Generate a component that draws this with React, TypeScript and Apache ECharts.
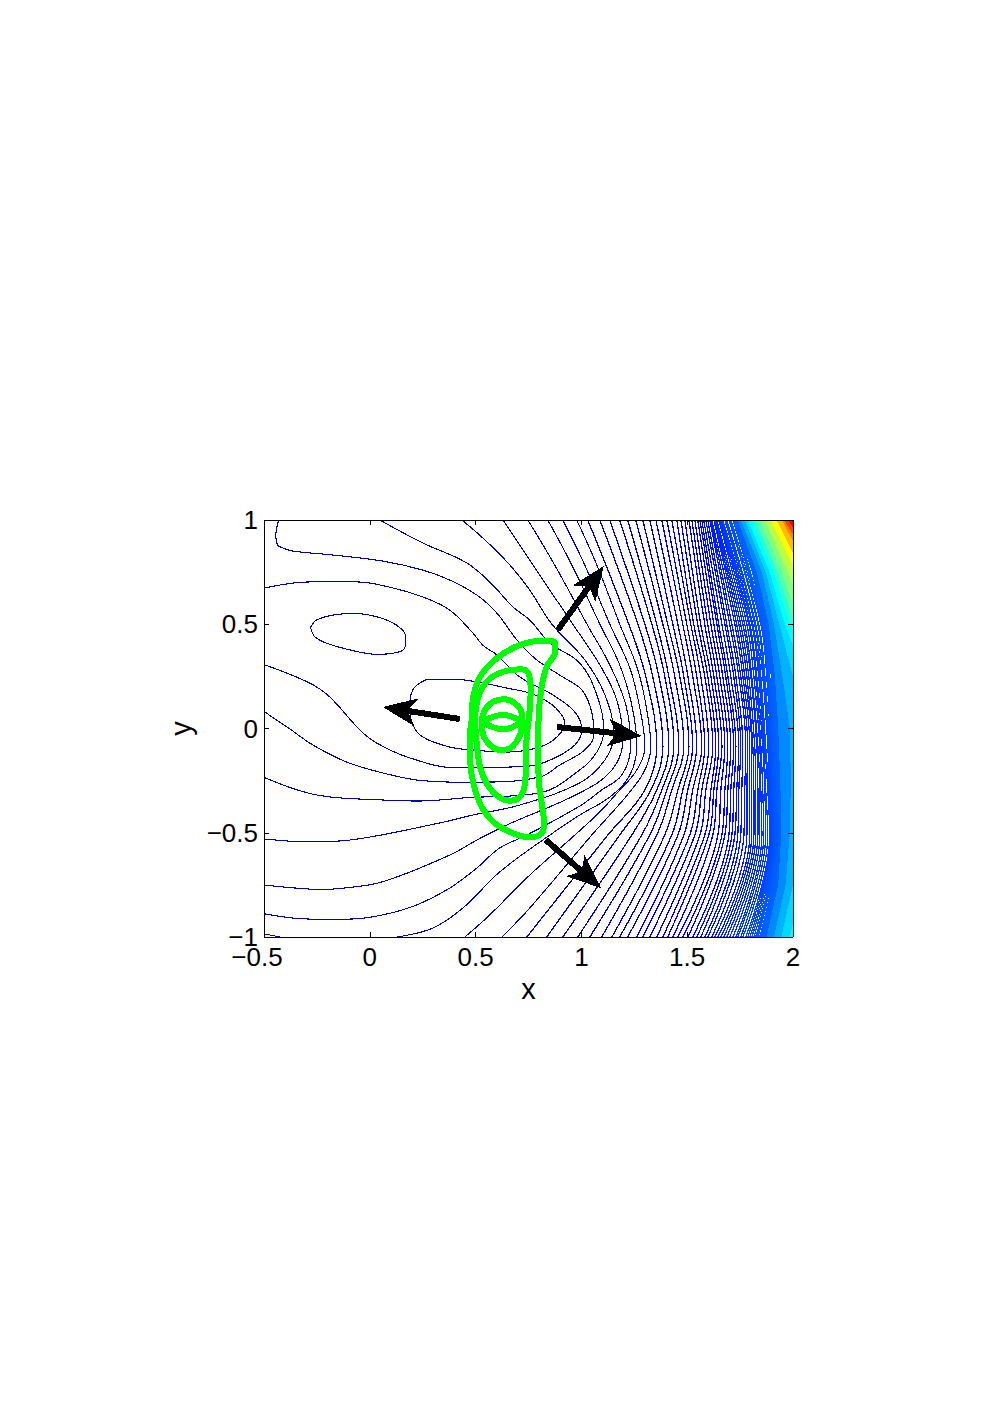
import React, { useEffect, useRef } from "react";
import * as echarts from "echarts";

type P = [number, number];

const xTicks = [-0.5, 0, 0.5, 1, 1.5, 2];
const yTicks = [-1, -0.5, 0, 0.5, 1];

// Closed and irregular contours
const loopD: P[] = [[-.28,.485],[-.252,.52],[-.173,.544],[-.079,.552],[.032,.536],[.126,.496],[.17,.44],[.165,.385],[.11,.361],[.032,.356],[-.095,.377],[-.204,.409],[-.26,.44],[-.28,.485]];
const loopB: P[] = [[.189,.089],[.189,.127],[.203,.185],[.236,.218],[.284,.237],[.392,.237],[.534,.218],[.647,.194],[.756,.17],[.827,.137],[.888,.089],[.922,.026],[.884,-.041],[.803,-.089],[.647,-.113],[.487,-.103],[.378,-.089],[.251,-.041],[.203,.017],[.189,.089]];
const lineE: P[] = [[-.496,.674],[-.284,.703],[-.061,.703],[.109,.674],[.25,.631],[.378,.568],[.487,.458],[.534,.4],[.6,.353],[.709,.247],[.865,.161],[.969,.079],[1.002,-.007],[.969,-.079],[.874,-.141],[.756,-.18],[.411,-.189],[.189,-.141],[.033,-.07],[-.047,-.007],[-.189,.151],[-.284,.218],[-.496,.305]];
const lineA: P[] = [[-.43,1],[-.444,.928],[-.435,.88],[-.411,.866],[-.364,.851],[-.175,.832],[.061,.803],[.25,.76],[.378,.712],[.506,.64],[.6,.554],[.695,.425],[.789,.329],[.912,.247],[1.002,.185],[1.049,.079],[1.059,-.031],[1.016,-.103],[.898,-.175],[.803,-.233],[.534,-.257],[.378,-.257],[.222,-.247],[.061,-.213],[-.109,-.161],[-.269,-.079],[-.378,-.002],[-.496,.079]];
const line2: P[] = [[.047,1],[.25,.89],[.458,.794],[.581,.688],[.676,.583],[.756,.52],[.851,.41],[.992,.314],[1.073,.161],[1.106,-.007],[1.073,-.113],[.992,-.199],[.803,-.309],[.458,-.332],[.222,-.348],[.061,-.343],[-.25,-.319],[-.496,-.236]];
const line3: P[] = [[.435,1],[.534,.914],[.662,.784],[.756,.664],[.86,.501],[1.016,.329],[1.111,.161],[1.153,-.031],[1.111,-.151],[.992,-.261],[.709,-.367],[.487,-.415],[.331,-.453],[-.095,-.535],[-.284,-.544],[-.496,-.53]];
const line4: P[] = [[.629,1],[.78,.77],[.959,.501],[1.087,.305],[1.167,.137],[1.196,-.055],[1.144,-.199],[.992,-.309],[.647,-.463],[.506,-.535],[.378,-.607],[.061,-.735],[-.12,-.765],[-.23,-.772],[-.354,-.765],[-.496,-.751]];
const line5: P[] = [[.747,1],[.874,.784],[1.026,.501],[1.134,.305],[1.21,.113],[1.233,-.084],[1.191,-.223],[1.096,-.295],[.992,-.372],[.742,-.511],[.614,-.573],[.506,-.669],[.378,-.765],[.222,-.846],[.061,-.894],[-.095,-.914],[-.284,-.914],[-.496,-.889]];
const line6: P[] = [[.841,1],[.955,.784],[1.087,.501],[1.181,.305],[1.238,.113],[1.262,-.084],[1.229,-.223],[1.134,-.329],[.992,-.415],[.851,-.511],[.614,-.688],[.44,-.861],[.298,-.957],[.132,-1],[-.095,-1.038],[-.331,-1.024],[-.425,-1],[-.496,-.986]];
const line7: P[] = [[.912,1],[1.016,.784],[1.134,.501],[1.229,.29],[1.276,.098],[1.3,-.084],[1.262,-.199],[1.181,-.295],[1.087,-.4],[.969,-.511],[.756,-.703],[.567,-.894],[.449,-1]];
const line8: P[] = [[.978,1],[1.073,.784],[1.181,.501],[1.267,.281],[1.309,.089],[1.328,-.084],[1.3,-.199],[1.229,-.304],[1.134,-.415],[1.049,-.511],[.756,-.861],[.624,-1]];

// The many C-shaped contours on the right: x where each crosses seven heights
const contourRowY = [1, 0.5, 0.25, -0.085, -0.295, -0.511, -1];
const contourTopX = [1.03,1.087,1.134,1.181,1.219,1.257,1.29,1.323,1.352,1.38,1.404,1.427,1.451,1.47,1.489,1.508,1.522,1.536,1.55,1.56,1.569,1.578,1.588,1.597,1.607,1.612,1.616,1.626,1.63,1.635,1.64,1.649,1.654,1.659,1.664,1.668,1.678,1.682,1.687,1.697,1.701,1.706,1.716,1.72,1.725];
const contourUpperX = [1.224,1.267,1.3,1.333,1.356,1.385,1.408,1.432,1.456,1.479,1.498,1.517,1.531,1.55,1.564,1.583,1.597,1.612,1.626,1.64,1.649,1.664,1.678,1.687,1.701,1.711,1.725,1.734,1.744,1.753,1.763,1.772,1.782,1.791,1.796,1.805,1.81,1.819,1.824,1.834,1.838,1.848,1.853,1.857,1.862];
const contourMidUpperX = [1.304,1.337,1.366,1.394,1.413,1.441,1.465,1.484,1.503,1.526,1.545,1.564,1.583,1.597,1.612,1.626,1.64,1.654,1.668,1.682,1.692,1.706,1.72,1.73,1.744,1.753,1.763,1.772,1.782,1.791,1.801,1.805,1.815,1.824,1.829,1.838,1.843,1.848,1.857,1.862,1.867,1.876,1.881,1.886,1.89];
const contourNoseX = [1.356,1.385,1.413,1.437,1.46,1.484,1.508,1.526,1.545,1.569,1.583,1.602,1.621,1.635,1.649,1.664,1.678,1.692,1.706,1.72,1.73,1.744,1.753,1.763,1.777,1.786,1.796,1.805,1.81,1.819,1.829,1.834,1.843,1.848,1.857,1.862,1.867,1.871,1.881,1.886,1.89,1.895,1.9,1.905,1.909];
const contourMidLowerX = [1.3,1.328,1.356,1.38,1.404,1.427,1.456,1.479,1.503,1.526,1.55,1.569,1.588,1.612,1.626,1.64,1.659,1.678,1.692,1.706,1.72,1.734,1.744,1.758,1.772,1.782,1.796,1.805,1.815,1.824,1.834,1.843,1.848,1.857,1.867,1.871,1.881,1.886,1.89,1.895,1.9,1.905,1.909,1.914,1.919];
const contourLowerX = [1.125,1.181,1.238,1.285,1.323,1.356,1.394,1.427,1.456,1.484,1.512,1.536,1.56,1.583,1.602,1.621,1.645,1.664,1.678,1.697,1.711,1.725,1.739,1.753,1.768,1.782,1.796,1.805,1.815,1.824,1.834,1.843,1.853,1.862,1.871,1.881,1.89,1.895,1.9,1.905,1.909,1.914,1.919,1.923,1.928];
const contourBottomX = [.742,.836,.912,.983,1.04,1.096,1.144,1.181,1.219,1.262,1.29,1.323,1.356,1.385,1.408,1.432,1.456,1.479,1.503,1.526,1.545,1.564,1.583,1.597,1.616,1.63,1.645,1.659,1.673,1.687,1.701,1.716,1.73,1.739,1.753,1.763,1.777,1.786,1.796,1.805,1.815,1.824,1.829,1.834,1.843];

// Solid colour bands where the contours are too dense to tell apart
const bandRowY = [1, 0.75, 0.5, 0.25, 0, -0.25, -0.5, -0.75, -1];
const bandColors = ["#0061ff","#008aff","#00b3ff","#00dbff","#00ffff","#2effd1","#57ffa8","#80ff80","#bdff42","#ffff00","#ffbd00","#ff8000","#ff4200","#ff0000","#df0000"];
const bandEdges = [
  [1.725,1.805,1.862,1.895,1.905,1.914,1.928,1.9,1.843],
  [1.739,1.829,1.885,1.915,1.93,1.94,1.945,1.93,1.875],
  [1.753,1.853,1.91,1.95,1.985,1.99,1.985,1.965,1.91],
  [1.772,1.871,1.935,2.0,2.06,2.07,2.05,2.0,1.945],
  [1.786,1.89,1.961,2.056,2.174,2.174,2.108,2.042,1.985],
  [1.805,1.909,1.985,2.103,2.245,2.245,2.174,2.089,2.018],
  [1.824,1.928,2.009,2.15,2.316,2.316,2.245,2.15,2.056],
  [1.843,1.947,2.032,2.198,2.363,2.363,2.316,2.221,2.103],
  [1.867,1.975,2.079,2.268,2.41,2.41,2.363,2.268,2.15],
  [1.895,2.013,2.127,2.316,2.6,2.6,2.6,2.6,2.6],
  [1.923,2.046,2.174,2.4,2.6,2.6,2.6,2.6,2.6],
  [1.947,2.079,2.221,2.5,2.7,2.7,2.7,2.7,2.7],
  [1.957,2.117,2.3,2.55,2.7,2.7,2.7,2.7,2.7],
  [1.975,2.155,2.4,2.6,2.8,2.8,2.8,2.8,2.8],
  [1.995,2.2,2.5,2.7,2.8,2.8,2.8,2.8,2.8],
];

// Green curves
const greenOuter: P[] = [[.4815,.0408],[.4893,.1527],[.5208,.2486],[.5996,.3365],[.7099,.4005],[.8201,.4213],[.8753,.4117],[.8753,.3685],[.8359,.2966],[.8123,.2007],[.7997,.0888],[.7965,-.0391],[.7965,-.167],[.7997,-.263],[.8123,-.3589],[.8233,-.4548],[.8123,-.5028],[.7571,-.522],[.6784,-.5028],[.5917,-.4548],[.5287,-.3749],[.4893,-.263],[.4736,-.1351],[.4736,-.0391],[.4815,.0408]];
const greenSecond: P[] = [[.4972,.0408],[.513,.1527],[.5602,.2326],[.6311,.2726],[.7177,.2838],[.7493,.2646],[.7603,.1847],[.754,.0727],[.7414,-.0391],[.7382,-.151],[.7335,-.263],[.7099,-.3269],[.6626,-.3461],[.6075,-.3269],[.5523,-.263],[.5208,-.183],[.5051,-.0711],[.4972,.0408]];
const greenThird: P[] = [[.5287,.0408],[.5445,.0888],[.5838,.1287],[.639,.1399],[.6862,.1207],[.7177,.0727],[.7177,.0088],[.702,-.0471],[.6626,-.0951],[.6154,-.1031],[.5681,-.0791],[.5366,-.0311],[.5287,.0408]];
const greenLens: P[] = [[.5287,.0328],[.5838,.0568],[.6311,.0648],[.6705,.0568],[.7099,.0328],[.6705,.0056],[.6311,-.004],[.5838,.0056],[.5287,.0328]];

// Arrows: tail x, tail y, tip x, tip y
const arrows = [
  [.8885,.4724,1.1059,.7794],
  [.4253,.0456,.0614,.1031],
  [.8837,.0072,1.2854,-.036],
  [.8318,-.5348,1.0917,-.765],
];

function jet(c: number): string {
  const f = (v: number) => Math.round(255 * Math.max(0, Math.min(1, v)));
  const r = f(1.5 - Math.abs(4 * c - 3));
  const g = f(1.5 - Math.abs(4 * c - 2));
  const b = f(1.5 - Math.abs(4 * c - 1));
  return `rgb(${r},${g},${b})`;
}

const fixedLines: P[][] = [loopD, loopB, lineE, lineA, line2, line3, line4, line5, line6, line7, line8];
const tableLines: P[][] = contourTopX.map((_, i) =>
  [contourTopX[i], contourUpperX[i], contourMidUpperX[i], contourNoseX[i], contourMidLowerX[i], contourLowerX[i], contourBottomX[i]].map(
    (x, r) => [x, contourRowY[r]] as P
  )
);
const allContours = [...fixedLines, ...tableLines];

export default function App() {
  const ref = useRef<HTMLDivElement>(null);
  useEffect(() => {
    const chart = echarts.init(ref.current!, undefined, { renderer: "svg" });
    const lineSeries = (data: P[], color: string, width: number, z: number, smooth = 0.38) => ({
      type: "line", data, smooth, symbol: "none", showSymbol: false, silent: true, z,
      clip: true, lineStyle: { color, width }, xAxisIndex: 0, yAxisIndex: 0,
    });
    const axisBase = {
      z: 10,
      axisLine: { show: true, onZero: false, lineStyle: { color: "#000", width: 1 } },
      axisTick: { show: true, inside: true, length: 5, lineStyle: { color: "#000", width: 1 } },
      splitLine: { show: false },
    };
    const labelFont = { color: "#000", fontFamily: "Liberation Sans", fontSize: 26 };
    const nameStyle = { color: "#000", fontFamily: "Liberation Sans", fontSize: 29 };
    chart.setOption({
      animation: false,
      backgroundColor: "#fff",
      grid: { left: 264, top: 520, width: 529, height: 417, containLabel: false },
      xAxis: [
        { ...axisBase, type: "value", min: xTicks[0], max: xTicks[xTicks.length - 1], interval: 0.5, position: "bottom",
          axisLabel: {
            show: true, ...labelFont, margin: 7,
            formatter: (v: number) => (v < 0 ? `{n|${String(v).replace("-", "\u2212")}}` : String(v)),
            rich: { n: { ...labelFont, padding: [0, 14, 0, 0] } },
          },
          name: "x", nameLocation: "middle", nameGap: 37, nameTextStyle: nameStyle },
        { ...axisBase, type: "value", min: xTicks[0], max: xTicks[xTicks.length - 1], interval: 0.5, position: "top", axisLabel: { show: false } },
      ],
      yAxis: [
        { ...axisBase, type: "value", min: yTicks[0], max: yTicks[yTicks.length - 1], interval: 0.5, position: "left",
          axisLabel: { show: true, ...labelFont, margin: 6, formatter: (v: number) => String(v).replace("-", "\u2212") },
          name: "y", nameLocation: "middle", nameGap: 66, nameTextStyle: nameStyle },
        { ...axisBase, type: "value", min: yTicks[0], max: yTicks[yTicks.length - 1], interval: 0.5, position: "right", axisLabel: { show: false } },
      ],
      series: [
        {
          type: "custom", silent: true, z: 1, clip: true, xAxisIndex: 0, yAxisIndex: 0,
          data: bandEdges.map((e, i) => [e[0], 1, i]),
          encode: { x: 0, y: 1 },
          renderItem: (_: any, api: any) => {
            const i = api.value(2);
            const pts: number[][] = bandEdges[i].map((x, r) => api.coord([x, bandRowY[r]]));
            pts.push(api.coord([3, -1]), api.coord([3, 1]));
            return { type: "polygon", shape: { points: pts }, style: { fill: bandColors[i], stroke: null } };
          },
        },
        ...allContours.map((d, i) => lineSeries(d, jet(0.03 + (i * 0.19) / 56), i < fixedLines.length ? 1.1 : 1.3, 2)),
        lineSeries(greenOuter, "#00ff00", 6, 3),
        lineSeries(greenSecond, "#00ff00", 6, 3),
        lineSeries(greenThird, "#00ff00", 6, 3),
        lineSeries(greenLens, "#00ff00", 6, 3),
        {
          type: "custom", silent: true, z: 4, xAxisIndex: 0, yAxisIndex: 0,
          data: arrows,
          encode: { x: [0, 2], y: [1, 3] },
          renderItem: (_: any, api: any) => {
            const a = api.coord([api.value(0), api.value(1)]);
            const b = api.coord([api.value(2), api.value(3)]);
            const dx = b[0] - a[0], dy = b[1] - a[1];
            const n = Math.hypot(dx, dy), ux = dx / n, uy = dy / n, vx = -uy, vy = ux;
            const at = (back: number, side: number) => [b[0] - ux * back + vx * side, b[1] - uy * back + vy * side];
            return {
              type: "group",
              children: [
                { type: "line", shape: { x1: a[0], y1: a[1], x2: b[0] - ux * 20, y2: b[1] - uy * 20 }, style: { stroke: "#000", lineWidth: 6 } },
                { type: "polygon", shape: { points: [b, at(34, 14), at(25, 0), at(34, -14)] }, style: { fill: "#000", stroke: null } },
              ],
            };
          },
        },
      ],
    });
    return () => chart.dispose();
  }, []);
  return (
    <>
      <style>{`#plot svg path, #plot svg line, #plot svg polygon { shape-rendering: crispEdges; }`}</style>
      <div id="plot" ref={ref} style={{ position: "absolute", left: 0, top: 0, width: 992, height: 1403 }} />
    </>
  );
}
